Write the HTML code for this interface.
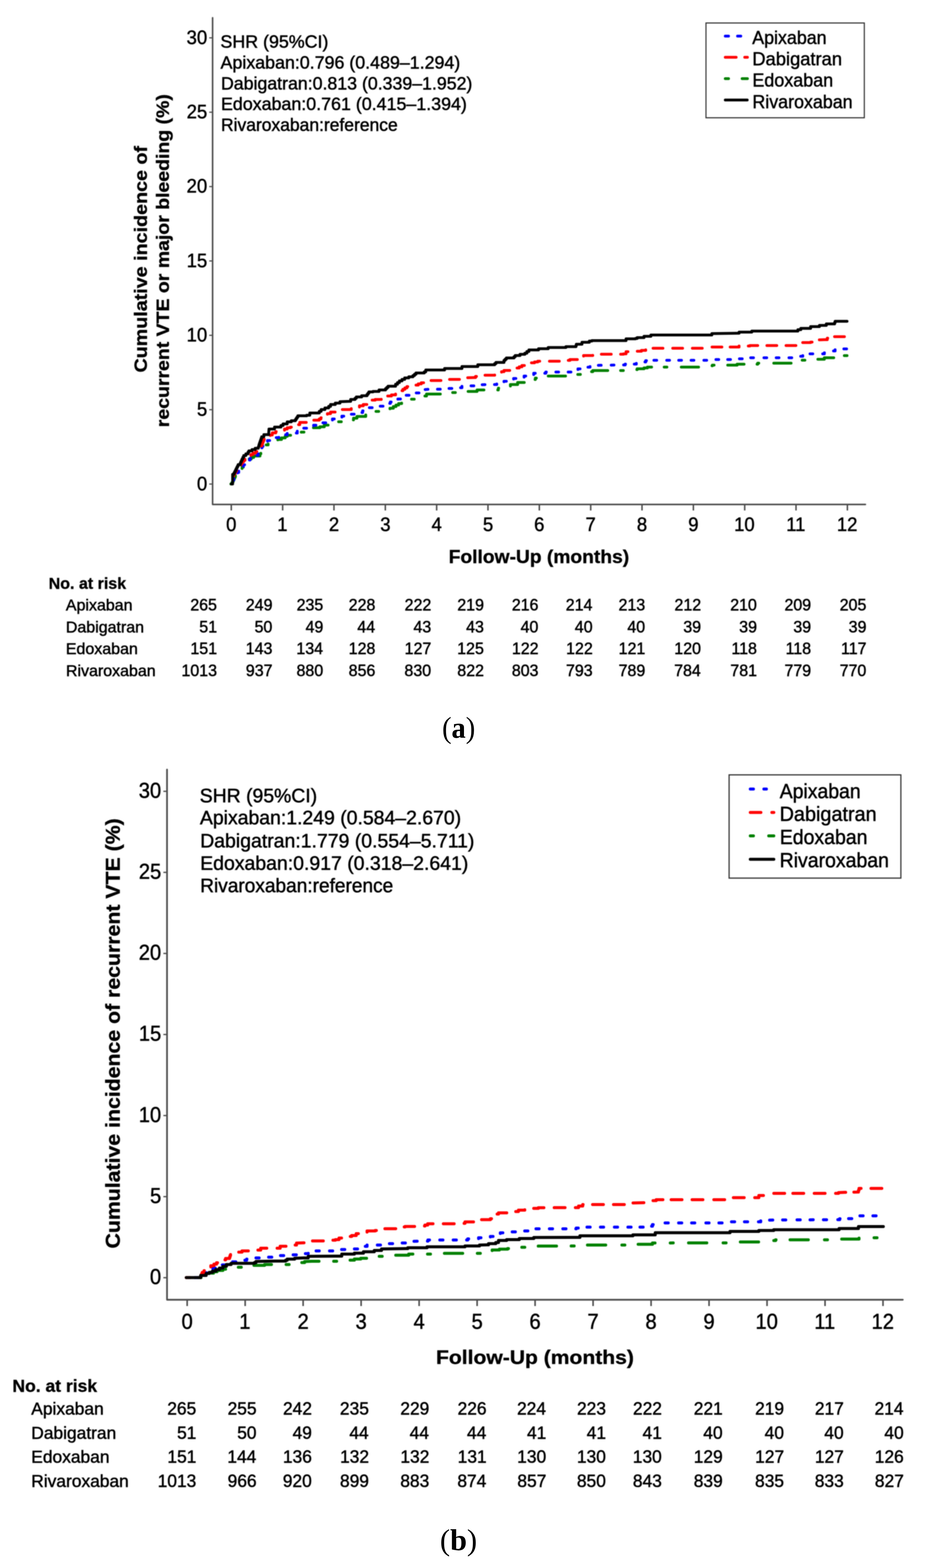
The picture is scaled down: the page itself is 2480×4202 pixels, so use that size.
<!DOCTYPE html>
<html><head><meta charset="utf-8"><title>Cumulative incidence</title>
<style>html,body{margin:0;padding:0;background:#fff;}#wrap{position:relative;width:2480px;height:4202px;overflow:hidden;}#plot{display:block;filter:blur(0.8px);}#lab{position:absolute;left:0;top:0;}</style>
</head><body><div id="wrap">
<svg id="plot" width="2480" height="4202" viewBox="0 0 2480 4202">
<rect width="2480" height="4202" fill="#fff"/>
<path d="M570.0 47.7V1351.8H2320.3" fill="none" stroke="#4d4d4d" stroke-width="4.2" stroke-linejoin="round" stroke-linecap="round"/>
<line x1="561.0" y1="1297.2" x2="570.0" y2="1297.2" stroke="#4d4d4d" stroke-width="3.2"/>
<text transform="translate(527.88 1313.50) scale(0.9449 1)" style="font-size:52.41px;font-family:'Liberation Sans',Arial,Helvetica,sans-serif" fill="#000" stroke="#000" stroke-width="1.10">0</text>
<line x1="561.0" y1="1097.9" x2="570.0" y2="1097.9" stroke="#4d4d4d" stroke-width="3.2"/>
<text transform="translate(528.03 1114.20) scale(0.9449 1)" style="font-size:52.41px;font-family:'Liberation Sans',Arial,Helvetica,sans-serif" fill="#000" stroke="#000" stroke-width="1.10">5</text>
<line x1="561.0" y1="898.6" x2="570.0" y2="898.6" stroke="#4d4d4d" stroke-width="3.2"/>
<text transform="translate(500.35 914.90) scale(0.9449 1)" style="font-size:52.41px;font-family:'Liberation Sans',Arial,Helvetica,sans-serif" fill="#000" stroke="#000" stroke-width="1.10">10</text>
<line x1="561.0" y1="699.3" x2="570.0" y2="699.3" stroke="#4d4d4d" stroke-width="3.2"/>
<text transform="translate(500.50 715.60) scale(0.9449 1)" style="font-size:52.41px;font-family:'Liberation Sans',Arial,Helvetica,sans-serif" fill="#000" stroke="#000" stroke-width="1.10">15</text>
<line x1="561.0" y1="500.0" x2="570.0" y2="500.0" stroke="#4d4d4d" stroke-width="3.2"/>
<text transform="translate(500.35 516.30) scale(0.9449 1)" style="font-size:52.41px;font-family:'Liberation Sans',Arial,Helvetica,sans-serif" fill="#000" stroke="#000" stroke-width="1.10">20</text>
<line x1="561.0" y1="300.7" x2="570.0" y2="300.7" stroke="#4d4d4d" stroke-width="3.2"/>
<text transform="translate(500.50 317.00) scale(0.9449 1)" style="font-size:52.41px;font-family:'Liberation Sans',Arial,Helvetica,sans-serif" fill="#000" stroke="#000" stroke-width="1.10">25</text>
<line x1="561.0" y1="101.4" x2="570.0" y2="101.4" stroke="#4d4d4d" stroke-width="3.2"/>
<text transform="translate(500.35 117.70) scale(0.9449 1)" style="font-size:52.41px;font-family:'Liberation Sans',Arial,Helvetica,sans-serif" fill="#000" stroke="#000" stroke-width="1.10">30</text>
<line x1="620.1" y1="1351.8" x2="620.1" y2="1368.0" stroke="#4d4d4d" stroke-width="4.0"/>
<text transform="translate(606.33 1422.80) scale(0.9449 1)" style="font-size:52.41px;font-family:'Liberation Sans',Arial,Helvetica,sans-serif" fill="#000" stroke="#000" stroke-width="1.10">0</text>
<line x1="757.8" y1="1351.8" x2="757.8" y2="1368.0" stroke="#4d4d4d" stroke-width="4.0"/>
<text transform="translate(743.32 1422.80) scale(0.9449 1)" style="font-size:52.41px;font-family:'Liberation Sans',Arial,Helvetica,sans-serif" fill="#000" stroke="#000" stroke-width="1.10">1</text>
<line x1="895.4" y1="1351.8" x2="895.4" y2="1368.0" stroke="#4d4d4d" stroke-width="4.0"/>
<text transform="translate(881.63 1422.80) scale(0.9449 1)" style="font-size:52.41px;font-family:'Liberation Sans',Arial,Helvetica,sans-serif" fill="#000" stroke="#000" stroke-width="1.10">2</text>
<line x1="1033.1" y1="1351.8" x2="1033.1" y2="1368.0" stroke="#4d4d4d" stroke-width="4.0"/>
<text transform="translate(1019.43 1422.80) scale(0.9449 1)" style="font-size:52.41px;font-family:'Liberation Sans',Arial,Helvetica,sans-serif" fill="#000" stroke="#000" stroke-width="1.10">3</text>
<line x1="1170.7" y1="1351.8" x2="1170.7" y2="1368.0" stroke="#4d4d4d" stroke-width="4.0"/>
<text transform="translate(1157.08 1422.80) scale(0.9449 1)" style="font-size:52.41px;font-family:'Liberation Sans',Arial,Helvetica,sans-serif" fill="#000" stroke="#000" stroke-width="1.10">4</text>
<line x1="1308.3" y1="1351.8" x2="1308.3" y2="1368.0" stroke="#4d4d4d" stroke-width="4.0"/>
<text transform="translate(1294.63 1422.80) scale(0.9449 1)" style="font-size:52.41px;font-family:'Liberation Sans',Arial,Helvetica,sans-serif" fill="#000" stroke="#000" stroke-width="1.10">5</text>
<line x1="1446.0" y1="1351.8" x2="1446.0" y2="1368.0" stroke="#4d4d4d" stroke-width="4.0"/>
<text transform="translate(1432.06 1422.80) scale(0.9449 1)" style="font-size:52.41px;font-family:'Liberation Sans',Arial,Helvetica,sans-serif" fill="#000" stroke="#000" stroke-width="1.10">6</text>
<line x1="1583.7" y1="1351.8" x2="1583.7" y2="1368.0" stroke="#4d4d4d" stroke-width="4.0"/>
<text transform="translate(1569.86 1422.80) scale(0.9449 1)" style="font-size:52.41px;font-family:'Liberation Sans',Arial,Helvetica,sans-serif" fill="#000" stroke="#000" stroke-width="1.10">7</text>
<line x1="1721.3" y1="1351.8" x2="1721.3" y2="1368.0" stroke="#4d4d4d" stroke-width="4.0"/>
<text transform="translate(1707.53 1422.80) scale(0.9449 1)" style="font-size:52.41px;font-family:'Liberation Sans',Arial,Helvetica,sans-serif" fill="#000" stroke="#000" stroke-width="1.10">8</text>
<line x1="1859.0" y1="1351.8" x2="1859.0" y2="1368.0" stroke="#4d4d4d" stroke-width="4.0"/>
<text transform="translate(1845.18 1422.80) scale(0.9449 1)" style="font-size:52.41px;font-family:'Liberation Sans',Arial,Helvetica,sans-serif" fill="#000" stroke="#000" stroke-width="1.10">9</text>
<line x1="1996.6" y1="1351.8" x2="1996.6" y2="1368.0" stroke="#4d4d4d" stroke-width="4.0"/>
<text transform="translate(1968.15 1422.80) scale(0.9449 1)" style="font-size:52.41px;font-family:'Liberation Sans',Arial,Helvetica,sans-serif" fill="#000" stroke="#000" stroke-width="1.10">10</text>
<line x1="2134.2" y1="1351.8" x2="2134.2" y2="1368.0" stroke="#4d4d4d" stroke-width="4.0"/>
<text transform="translate(2107.88 1422.80) scale(0.9449 1)" style="font-size:52.41px;font-family:'Liberation Sans',Arial,Helvetica,sans-serif" fill="#000" stroke="#000" stroke-width="1.10">11</text>
<line x1="2271.9" y1="1351.8" x2="2271.9" y2="1368.0" stroke="#4d4d4d" stroke-width="4.0"/>
<text transform="translate(2243.72 1422.80) scale(0.9449 1)" style="font-size:52.41px;font-family:'Liberation Sans',Arial,Helvetica,sans-serif" fill="#000" stroke="#000" stroke-width="1.10">12</text>
<text transform="translate(394.20 998.33) rotate(-90) scale(1.0829 1)" style="font-size:48.76px;font-weight:bold;font-family:'Liberation Sans',Arial,Helvetica,sans-serif" fill="#000" stroke="#000" stroke-width="0.80">Cumulative incidence of</text>
<text transform="translate(453.30 1144.91) rotate(-90) scale(1.0698 1)" style="font-size:48.76px;font-weight:bold;font-family:'Liberation Sans',Arial,Helvetica,sans-serif" fill="#000" stroke="#000" stroke-width="0.80">recurrent VTE or major bleeding (%)</text>
<text transform="translate(1202.96 1509.40) scale(1.0409 1)" style="font-size:49.53px;font-weight:bold;font-family:'Liberation Sans',Arial,Helvetica,sans-serif" fill="#000" stroke="#000" stroke-width="0.80">Follow-Up (months)</text>
<text transform="translate(591.05 128.00) scale(1.0052 1)" style="font-size:47.56px;font-family:'Liberation Sans',Arial,Helvetica,sans-serif" fill="#000" stroke="#000" stroke-width="1.10">SHR (95%CI)</text>
<text transform="translate(591.36 183.50) scale(1.0045 1)" style="font-size:47.56px;font-family:'Liberation Sans',Arial,Helvetica,sans-serif" fill="#000" stroke="#000" stroke-width="1.10">Apixaban:0.796 (0.489&#8211;1.294)</text>
<text transform="translate(592.45 239.80) scale(0.9996 1)" style="font-size:47.56px;font-family:'Liberation Sans',Arial,Helvetica,sans-serif" fill="#000" stroke="#000" stroke-width="1.10">Dabigatran:0.813 (0.339&#8211;1.952)</text>
<text transform="translate(592.43 295.40) scale(1.0055 1)" style="font-size:47.56px;font-family:'Liberation Sans',Arial,Helvetica,sans-serif" fill="#000" stroke="#000" stroke-width="1.10">Edoxaban:0.761 (0.415&#8211;1.394)</text>
<text transform="translate(592.50 350.50) scale(0.9852 1)" style="font-size:47.56px;font-family:'Liberation Sans',Arial,Helvetica,sans-serif" fill="#000" stroke="#000" stroke-width="1.10">Rivaroxaban:reference</text>
<rect x="1892.8" y="61.6" width="424.5" height="254.0" fill="none" stroke="#333" stroke-width="3.0"/>
<text transform="translate(2016.72 117.80) scale(0.9432 1)" style="font-size:50.73px;font-family:'Liberation Sans',Arial,Helvetica,sans-serif" fill="#000" stroke="#000" stroke-width="1.10">Apixaban</text>
<line x1="1944.5" y1="96.7" x2="1953.3" y2="96.7" stroke="#0000ff" stroke-width="7.5" stroke-linecap="round"/>
<line x1="1977.4" y1="96.7" x2="1986.1" y2="96.7" stroke="#0000ff" stroke-width="7.5" stroke-linecap="round"/>
<text transform="translate(2017.10 175.00) scale(0.9689 1)" style="font-size:50.73px;font-family:'Liberation Sans',Arial,Helvetica,sans-serif" fill="#000" stroke="#000" stroke-width="1.10">Dabigatran</text>
<line x1="1944.5" y1="153.6" x2="1973.7" y2="153.6" stroke="#ff0000" stroke-width="7.5" stroke-linecap="round"/>
<line x1="1996.7" y1="153.6" x2="2003.9" y2="153.6" stroke="#ff0000" stroke-width="7.5" stroke-linecap="round"/>
<text transform="translate(2017.18 232.30) scale(0.9475 1)" style="font-size:50.73px;font-family:'Liberation Sans',Arial,Helvetica,sans-serif" fill="#000" stroke="#000" stroke-width="1.10">Edoxaban</text>
<line x1="1944.5" y1="210.7" x2="1953.3" y2="210.7" stroke="#008000" stroke-width="7.5" stroke-linecap="round"/>
<line x1="1989.7" y1="210.7" x2="2003.9" y2="210.7" stroke="#008000" stroke-width="7.5" stroke-linecap="round"/>
<text transform="translate(2017.19 289.70) scale(0.9437 1)" style="font-size:50.73px;font-family:'Liberation Sans',Arial,Helvetica,sans-serif" fill="#000" stroke="#000" stroke-width="1.10">Rivaroxaban</text>
<line x1="1944.5" y1="267.9" x2="2003.4" y2="267.9" stroke="#000000" stroke-width="7.5" stroke-linecap="round"/>
<path d="M619.0 1297.0L621.5 1297.0L621.5 1293.5L624.0 1293.5L624.0 1290.0L625.8 1290.0L625.8 1286.0L627.6 1286.0L627.6 1282.0L629.3 1282.0L629.3 1278.0L631.1 1278.0L631.1 1274.0L632.9 1274.0L632.9 1270.0L636.1 1270.0L636.1 1266.3L639.3 1266.3L639.3 1262.7L642.6 1262.7L642.6 1259.0L645.8 1259.0L645.8 1255.4L649.0 1255.4L649.0 1251.7L652.7 1251.7L652.7 1247.4L656.3 1247.4L656.3 1243.0L660.0 1243.0L660.0 1238.7L663.6 1238.7L663.6 1234.3L667.3 1234.3L667.3 1230.0L673.6 1230.0L673.6 1226.0L680.0 1226.0L680.0 1222.0L697.0 1222.0L697.0 1216.2L699.3 1216.2L699.3 1211.6L701.6 1211.6L701.6 1207.0L703.9 1207.0L703.9 1203.3L706.2 1203.3L706.2 1199.6L708.5 1199.6L708.5 1195.9L710.8 1195.9L710.8 1192.2L718.8 1192.2L718.8 1188.8L726.9 1188.8L726.9 1185.3L734.9 1185.3L734.9 1181.9L744.8 1181.9L744.8 1177.7L754.7 1177.7L754.7 1173.5L764.6 1173.5L764.6 1169.3L770.0 1169.3L770.0 1166.6L797.0 1166.6L797.0 1161.5L807.7 1161.5L807.7 1158.1L818.3 1158.1L818.3 1154.8L829.0 1154.8L829.0 1151.4L832.3 1151.4L832.3 1146.3L857.6 1146.3L857.6 1143.8L869.4 1143.8L869.4 1139.2L881.2 1139.2L881.2 1134.6L899.7 1134.6L899.7 1130.3L926.7 1130.3L926.7 1125.3L938.5 1125.3L947.8 1125.3L947.8 1120.7L957.0 1120.7L957.0 1116.0L980.6 1116.0L980.6 1110.1L986.5 1110.1L986.5 1106.3L992.4 1106.3L992.4 1102.5L1020.2 1102.5L1020.2 1098.6L1036.4 1098.6L1045.5 1098.6L1045.5 1094.0L1054.6 1094.0L1054.6 1089.5L1061.7 1089.5L1061.7 1085.5L1068.7 1085.5L1068.7 1081.4L1076.8 1081.4L1076.8 1079.4L1081.8 1079.4L1081.8 1076.3L1086.9 1076.3L1086.9 1073.3L1099.1 1073.3L1099.1 1069.8L1111.2 1069.8L1111.2 1066.2L1121.3 1066.2L1121.3 1061.2L1143.5 1061.2L1143.5 1056.1L1190.0 1056.1L1194.0 1056.1L1194.0 1052.1L1226.4 1052.1L1234.5 1052.1L1234.5 1049.0L1262.8 1049.0L1279.0 1049.0L1279.0 1045.0L1310.2 1045.0L1336.1 1045.0L1336.1 1040.2L1344.7 1040.2L1344.7 1035.8L1368.4 1035.8L1368.4 1030.5L1387.8 1030.5L1387.8 1025.1L1407.2 1025.1L1407.2 1020.8L1421.2 1020.8L1421.2 1017.0L1435.3 1017.0L1435.3 1013.2L1441.7 1013.2L1441.7 1008.9L1469.8 1008.9L1469.8 1007.8L1519.4 1007.8L1547.4 1007.8L1547.4 1003.5L1556.0 1003.5L1556.0 1000.3L1581.9 1000.3L1581.9 996.0L1589.2 996.0L1589.2 992.9L1671.6 992.9L1703.7 992.9L1703.7 990.6L1708.3 990.6L1708.3 988.3L1726.6 988.3L1726.6 986.0L1735.8 986.0L1735.8 983.7L1877.8 983.7L1877.8 981.4L1905.3 981.4L1905.3 980.3L1909.9 980.3L1909.9 978.5L1947.3 978.5L1976.2 978.5L1976.2 975.9L1997.2 975.9L2031.4 975.9L2031.4 973.2L2123.4 973.2L2135.2 973.2L2135.2 969.2L2147.0 969.2L2147.0 965.3L2160.2 965.3L2189.1 965.3L2189.1 962.7L2210.1 962.7L2210.1 958.8L2233.8 958.8L2260.1 958.8L2260.1 953.0L2271.9 953.0" fill="none" stroke="#008000" stroke-width="7.5" stroke-linecap="round" stroke-linejoin="round" stroke-dasharray="34.5 37.0 7.3 37.2 46.5 37.0 7.3 37.2 46.5 37.0 7.3 37.2 46.5 37.0 7.3 37.2 46.5 37.0 7.3 37.2 46.5 37.0 7.3 37.2 46.5 37.0 7.3 37.2 46.5 37.0 7.3 37.2 46.5 37.0 7.3 37.2 46.5 37.0 7.3 37.2 46.5 34.5 7.3 38.5 46.5 33.7 7.3 38.5 46.5 39.4 7.3 36.5 46.5 34.8 7.3 40.2 46.5 37.6 7.3 37.3 46.5 34.2 7.3 50.9" stroke-dashoffset="0.0"/>
<path d="M619.0 1297.0L621.5 1297.0L621.5 1293.5L624.0 1293.5L624.0 1290.0L625.4 1290.0L625.4 1286.0L626.9 1286.0L626.9 1282.0L628.3 1282.0L628.3 1278.0L631.2 1278.0L631.2 1274.0L634.1 1274.0L634.1 1270.0L637.1 1270.0L637.1 1266.0L640.0 1266.0L640.0 1262.0L643.2 1262.0L643.2 1257.9L646.3 1257.9L646.3 1253.8L649.5 1253.8L649.5 1249.6L652.6 1249.6L652.6 1245.5L655.8 1245.5L655.8 1241.4L660.7 1241.4L660.7 1237.1L665.5 1237.1L665.5 1232.8L670.4 1232.8L670.4 1228.5L675.3 1228.5L675.3 1224.2L683.9 1224.2L683.9 1220.2L692.5 1220.2L692.5 1216.2L694.4 1216.2L694.4 1212.2L696.2 1212.2L696.2 1208.1L698.1 1208.1L698.1 1204.0L700.0 1204.0L700.0 1200.0L702.5 1200.0L702.5 1196.2L705.0 1196.2L705.0 1192.5L707.5 1192.5L707.5 1188.8L710.0 1188.8L710.0 1185.0L717.2 1185.0L717.2 1180.5L724.5 1180.5L724.5 1176.1L736.0 1176.1L736.0 1172.7L747.5 1172.7L747.5 1169.3L758.8 1169.3L758.8 1164.9L770.0 1164.9L770.0 1160.5L797.0 1160.5L797.0 1154.8L805.4 1154.8L805.4 1151.2L813.8 1151.2L813.8 1147.5L827.3 1147.5L834.0 1147.5L834.0 1143.5L840.8 1143.5L840.8 1139.6L854.2 1139.6L859.2 1139.6L859.2 1136.2L864.3 1136.2L864.3 1132.9L874.4 1132.9L874.4 1129.5L882.8 1129.5L882.8 1126.1L891.3 1126.1L891.3 1122.8L899.7 1122.8L899.7 1119.4L916.6 1119.4L916.6 1115.2L928.4 1115.2L941.8 1115.2L941.8 1110.1L955.3 1110.1L963.8 1110.1L963.8 1105.5L972.2 1105.5L972.2 1100.9L980.6 1100.9L980.6 1096.7L989.0 1096.7L989.0 1092.4L1002.5 1092.4L1016.2 1092.4L1016.2 1088.5L1036.4 1088.5L1039.8 1088.5L1039.8 1084.8L1043.1 1084.8L1043.1 1081.0L1046.5 1081.0L1046.5 1077.3L1056.6 1077.3L1061.7 1077.3L1061.7 1073.3L1066.7 1073.3L1066.7 1069.3L1076.8 1069.3L1076.8 1067.2L1082.8 1067.2L1082.8 1063.2L1088.9 1063.2L1088.9 1059.2L1099.1 1059.2L1099.1 1056.2L1109.2 1056.2L1109.2 1053.1L1123.3 1053.1L1123.3 1049.0L1139.5 1049.0L1139.5 1044.0L1151.6 1043.0L1186.0 1043.0L1202.1 1043.0L1202.1 1041.0L1216.3 1041.0L1232.5 1041.0L1232.5 1038.9L1238.5 1038.9L1238.5 1034.0L1274.9 1034.0L1291.1 1034.0L1291.1 1030.9L1325.3 1030.5L1331.8 1030.5L1331.8 1027.2L1351.2 1027.2L1351.2 1021.8L1364.1 1021.8L1364.1 1018.0L1377.0 1018.0L1377.0 1014.3L1391.0 1014.3L1391.0 1011.0L1405.1 1011.0L1405.1 1007.8L1413.7 1007.8L1413.7 1004.6L1430.9 1004.6L1430.9 1000.3L1441.7 1000.3L1463.3 1000.3L1463.3 997.0L1534.5 997.0L1534.5 992.7L1549.5 992.7L1549.5 988.4L1560.3 988.4L1560.3 984.1L1581.9 984.1L1581.9 980.9L1600.0 980.9L1600.0 979.0L1667.1 978.0L1676.2 978.0L1676.2 975.7L1699.1 975.7L1706.0 975.7L1706.0 972.3L1726.6 972.3L1726.6 970.0L1731.2 970.0L1731.2 966.5L1749.5 966.5L1749.5 965.4L1900.7 965.4L1915.8 965.4L1915.8 963.5L1978.8 963.5L1978.8 961.4L2010.4 961.4L2010.4 958.8L2123.4 958.8L2144.4 958.8L2144.4 954.8L2152.3 954.8L2152.3 952.2L2168.1 952.2L2168.1 948.3L2210.1 948.3L2210.1 945.6L2231.1 945.6L2231.1 940.4L2239.0 940.4L2239.0 935.1L2271.0 935.1" fill="none" stroke="#0000ff" stroke-width="7.5" stroke-linecap="round" stroke-linejoin="round" stroke-dasharray="7.5 25.5 7.5 25.5 7.5 25.5 7.5 25.5 7.5 25.5 7.5 25.5 7.5 25.5 7.5 25.5 7.5 25.5 7.5 25.5 7.5 25.5 7.5 25.5 7.5 25.5 7.5 25.5 7.5 25.5 7.5 25.5 7.5 25.5 7.5 25.5 7.5 25.5 7.5 25.5 7.5 25.5 7.5 25.5 7.5 25.5 7.5 25.5 7.5 25.5 7.5 25.5 7.5 25.5 7.5 25.5 7.5 25.5 7.5 25.5 7.5 25.5 7.5 25.5 7.5 25.5 7.5 25.5 7.5 25.5 7.5 25.5 7.5 25.5 7.5 25.5 7.5 25.5 7.5 26.9 7.5 25.7 7.5 23.4 7.5 26.9 7.5 21.1 7.5 26.9 7.5 24.6 7.5 25.7 7.5 26.8 7.5 26.7 7.5 24.0 7.5 26.1 7.5 25.3 7.5 28.0 7.5 25.4 7.5 26.7 7.5 27.9 7.5 24.0 7.5 26.5 7.5 29.4 7.5 25.5 7.5 66.0" stroke-dashoffset="2046.6"/>
<path d="M619.0 1297.0L624.0 1297.0L624.0 1275.0L627.0 1275.0L627.0 1270.0L630.0 1270.0L630.0 1265.0L632.5 1265.0L632.5 1261.2L635.0 1261.2L635.0 1257.5L637.5 1257.5L637.5 1253.8L640.0 1253.8L640.0 1250.0L643.3 1250.0L643.3 1245.7L646.7 1245.7L646.7 1241.3L650.0 1241.3L650.0 1237.0L653.5 1237.0L653.5 1233.5L656.9 1233.5L656.9 1230.0L660.4 1230.0L660.4 1226.5L666.5 1226.5L666.5 1222.3L672.6 1222.3L672.6 1218.1L678.7 1218.1L678.7 1213.9L685.6 1213.9L685.6 1209.9L692.5 1209.9L692.5 1205.9L695.0 1205.9L695.0 1202.3L697.5 1202.3L697.5 1198.6L700.0 1198.6L700.0 1195.0L702.0 1195.0L702.0 1190.0L704.0 1190.0L704.0 1185.0L705.7 1185.0L705.7 1181.2L707.4 1181.2L707.4 1177.3L712.0 1177.3L712.0 1172.0L718.2 1172.0L718.2 1168.9L724.5 1168.9L724.5 1165.8L730.0 1165.8L730.0 1160.0L739.4 1160.0L739.4 1156.7L755.5 1156.7L755.5 1153.2L762.8 1153.2L762.8 1149.8L770.0 1149.8L770.0 1146.3L778.4 1146.3L778.4 1144.7L786.0 1144.7L786.0 1141.3L793.6 1141.3L793.6 1137.9L803.7 1137.9L803.7 1132.0L813.8 1132.0L830.6 1132.0L830.6 1126.1L855.9 1126.1L855.9 1122.8L860.4 1122.8L860.4 1119.4L864.9 1119.4L864.9 1116.1L869.4 1116.1L869.4 1112.7L877.8 1112.7L877.8 1108.5L886.2 1108.5L886.2 1104.2L904.8 1104.2L904.8 1102.5L913.2 1102.5L913.2 1097.5L928.4 1097.5L941.8 1097.5L941.8 1092.4L963.7 1092.4L963.7 1087.4L973.9 1087.4L973.9 1084.0L984.0 1084.0L984.0 1080.6L986.5 1080.6L986.5 1076.4L989.0 1076.4L989.0 1072.2L1005.9 1072.2L1005.9 1070.5L1022.2 1070.5L1022.2 1067.2L1030.3 1067.2L1030.3 1064.2L1038.4 1064.2L1038.4 1061.2L1049.5 1061.2L1049.5 1058.2L1060.6 1058.2L1060.6 1055.1L1067.7 1055.1L1067.7 1051.0L1074.8 1051.0L1074.8 1047.0L1080.2 1047.0L1080.2 1043.3L1085.6 1043.3L1085.6 1039.6L1091.0 1039.6L1091.0 1035.9L1113.2 1035.9L1113.2 1031.9L1121.3 1031.9L1121.3 1028.8L1129.4 1028.8L1129.4 1025.8L1137.5 1025.8L1137.5 1022.8L1145.5 1022.8L1145.5 1019.7L1175.9 1019.7L1194.0 1019.7L1194.0 1016.7L1226.4 1016.7L1238.5 1016.7L1238.5 1012.7L1270.9 1011.7L1275.0 1011.7L1275.0 1008.7L1279.0 1008.7L1279.0 1005.6L1314.5 1005.6L1326.3 1005.6L1326.3 1002.4L1338.2 1002.4L1338.2 999.2L1344.7 999.2L1344.7 996.0L1351.2 996.0L1351.2 992.7L1379.2 992.7L1379.2 989.5L1385.7 989.5L1385.7 986.2L1392.1 986.2L1392.1 983.0L1399.3 983.0L1399.3 979.4L1406.5 979.4L1406.5 975.8L1413.7 975.8L1413.7 972.2L1433.1 972.2L1433.1 970.1L1441.7 970.1L1441.7 967.9L1508.6 967.9L1508.6 965.8L1528.0 965.8L1528.0 963.6L1549.5 963.6L1549.5 958.2L1564.6 958.2L1564.6 952.8L1589.2 952.8L1589.2 949.3L1671.6 949.3L1671.6 948.2L1678.5 948.2L1678.5 942.5L1706.0 942.5L1706.0 941.3L1719.7 941.3L1719.7 939.0L1731.2 939.0L1731.2 935.6L1747.2 935.6L1747.2 933.3L1903.0 933.3L1907.6 933.3L1907.6 930.0L1978.8 929.9L1981.5 929.9L1981.5 927.2L2010.4 927.2L2010.4 926.0L2136.5 925.9L2143.1 925.9L2143.1 922.0L2149.7 922.0L2149.7 918.0L2173.3 918.0L2173.3 916.7L2194.4 916.7L2194.4 910.9L2210.1 910.2L2218.0 910.2L2218.0 906.2L2236.4 906.2L2236.4 902.3L2271.0 902.3L2271.0 901.0" fill="none" stroke="#ff0000" stroke-width="7.5" stroke-linecap="round" stroke-linejoin="round" stroke-dasharray="26.5 26.1 26.5 26.1 26.5 26.1 26.5 26.1 26.5 26.1 26.5 26.1 26.5 26.1 26.5 26.1 26.5 26.1 26.5 26.1 26.5 26.1 26.5 26.1 26.5 26.1 26.5 26.1 26.5 26.1 26.5 26.1 26.5 26.1 26.5 26.1 26.5 26.1 26.5 26.1 26.5 26.1 26.5 26.1 26.5 26.1 26.5 26.1 26.5 26.1 26.5 25.1 26.5 26.2 26.5 23.8 26.5 26.2 26.5 26.2 26.5 29.5 26.5 22.1 26.5 24.8 26.5 24.6 26.5 24.8 26.5 26.1 26.5 25.2 26.5 22.2 26.5 83.3" stroke-dashoffset="2071.1"/>
<path d="M620.1 1297.0L623.7 1297.0L623.7 1271.2L627.2 1271.2L627.2 1267.8L629.1 1267.8L629.1 1264.0L631.0 1264.0L631.0 1260.2L632.9 1260.2L632.9 1256.3L634.8 1256.3L634.8 1252.5L636.7 1252.5L636.7 1248.7L638.6 1248.7L638.6 1244.9L644.4 1244.9L644.4 1240.3L645.9 1240.3L645.9 1236.9L647.5 1236.9L647.5 1233.4L649.0 1233.4L649.0 1230.0L651.2 1230.0L651.2 1225.4L653.5 1225.4L653.5 1220.8L659.2 1220.8L659.2 1216.2L665.0 1216.2L665.0 1211.6L667.3 1211.6L667.3 1208.2L675.7 1208.2L675.7 1204.8L684.1 1204.8L684.1 1201.3L692.5 1201.3L692.5 1197.9L693.7 1197.9L693.7 1194.1L694.8 1194.1L694.8 1190.2L696.0 1190.2L696.0 1186.4L697.4 1186.4L697.4 1182.4L698.8 1182.4L698.8 1178.4L700.2 1178.4L700.2 1174.4L701.6 1174.4L701.6 1170.4L707.4 1170.4L707.4 1164.7L720.0 1164.7L720.3 1164.7L720.3 1161.0L720.5 1161.0L720.5 1157.2L720.8 1157.2L720.8 1153.5L721.1 1153.5L721.1 1149.8L736.0 1149.8L736.0 1148.6L736.0 1144.6L747.5 1144.6L753.2 1144.6L753.2 1140.3L758.9 1140.3L758.9 1136.0L770.0 1136.0L770.0 1130.5L781.0 1130.5L781.0 1127.5L791.9 1127.5L791.9 1124.4L794.1 1124.4L794.1 1121.0L796.4 1121.0L796.4 1117.7L798.6 1117.7L798.6 1114.3L822.2 1114.3L822.2 1112.7L830.6 1112.7L830.6 1106.8L850.9 1106.8L856.0 1106.8L856.0 1102.2L861.0 1102.2L861.0 1097.5L871.1 1097.5L871.1 1093.3L881.2 1093.3L881.2 1089.1L886.2 1089.1L886.2 1084.0L898.9 1084.0L898.9 1080.2L911.5 1080.2L911.5 1076.4L936.8 1075.6L940.1 1075.6L940.1 1070.5L951.9 1070.5L951.9 1067.2L955.3 1067.2L955.3 1063.8L969.6 1063.8L969.6 1060.4L984.0 1060.4L984.0 1057.1L986.5 1057.1L986.5 1053.7L989.0 1053.7L989.0 1050.3L1000.0 1050.3L1000.0 1049.0L1016.2 1049.0L1016.2 1045.0L1030.3 1045.0L1033.7 1045.0L1033.7 1041.6L1037.0 1041.6L1037.0 1038.3L1040.4 1038.3L1040.4 1034.9L1060.6 1034.9L1060.6 1029.8L1065.7 1029.8L1065.7 1025.3L1070.8 1025.3L1070.8 1020.8L1077.8 1020.8L1077.8 1016.8L1084.9 1016.8L1084.9 1012.7L1096.0 1012.7L1096.0 1009.7L1107.1 1009.7L1107.1 1006.6L1111.2 1006.6L1111.2 1003.0L1115.2 1003.0L1115.2 999.5L1137.5 999.5L1137.5 996.5L1141.5 996.5L1141.5 991.4L1188.0 991.4L1192.0 991.4L1192.0 987.4L1226.4 987.4L1238.5 987.4L1238.5 982.3L1272.9 982.3L1281.0 982.3L1281.0 977.5L1323.1 977.5L1326.3 977.5L1326.3 974.4L1329.6 974.4L1329.6 971.2L1351.2 971.2L1351.2 965.8L1354.4 965.8L1354.4 962.5L1357.6 962.5L1357.6 959.3L1374.9 959.3L1378.1 959.3L1378.1 956.0L1381.3 956.0L1381.3 952.8L1394.2 952.8L1394.2 949.6L1407.2 949.6L1407.2 946.4L1412.6 946.4L1412.6 942.0L1418.0 942.0L1418.0 937.7L1439.6 937.7L1443.9 937.7L1443.9 934.5L1465.4 934.5L1469.8 934.5L1469.8 931.3L1515.0 931.3L1517.2 931.3L1517.2 929.1L1543.1 929.1L1544.2 929.1L1544.2 925.9L1545.2 925.9L1545.2 922.6L1560.3 922.6L1560.3 917.3L1580.0 917.3L1580.0 914.0L1586.9 914.0L1586.9 912.7L1673.9 912.7L1678.5 912.7L1678.5 908.1L1703.7 908.1L1703.7 907.0L1708.3 907.0L1708.3 904.7L1726.6 904.7L1726.6 901.2L1745.0 901.2L1745.0 897.8L1905.3 897.8L1908.5 897.8L1908.5 894.0L1976.2 893.1L1981.5 893.1L1981.5 889.9L2010.4 889.9L2015.6 889.9L2015.6 887.3L2131.3 887.3L2139.2 887.3L2139.2 883.6L2147.0 883.6L2147.0 879.9L2168.1 879.9L2173.3 879.9L2173.3 875.2L2191.7 875.2L2197.0 875.2L2197.0 872.0L2212.7 872.0L2215.4 872.0L2215.4 868.1L2236.4 868.1L2237.7 868.1L2237.7 864.5L2239.0 864.5L2239.0 861.0L2271.0 861.0" fill="none" stroke="#000000" stroke-width="7.5" stroke-linecap="round" stroke-linejoin="round"/>
<text transform="translate(130.62 1577.60) scale(0.9938 1)" style="font-size:43.19px;font-weight:bold;font-family:'Liberation Sans',Arial,Helvetica,sans-serif" fill="#000" stroke="#000" stroke-width="0.80">No. at risk</text>
<text transform="translate(176.57 1636.00) scale(1.0050 1)" style="font-size:42.66px;font-family:'Liberation Sans',Arial,Helvetica,sans-serif" fill="#000" stroke="#000" stroke-width="1.10">Apixaban</text>
<text transform="translate(510.16 1636.00) scale(0.9633 1)" style="font-size:44.51px;font-family:'Liberation Sans',Arial,Helvetica,sans-serif" fill="#000" stroke="#000" stroke-width="1.10">265</text>
<text transform="translate(658.97 1636.00) scale(0.9633 1)" style="font-size:44.51px;font-family:'Liberation Sans',Arial,Helvetica,sans-serif" fill="#000" stroke="#000" stroke-width="1.10">249</text>
<text transform="translate(795.16 1636.00) scale(0.9633 1)" style="font-size:44.51px;font-family:'Liberation Sans',Arial,Helvetica,sans-serif" fill="#000" stroke="#000" stroke-width="1.10">235</text>
<text transform="translate(934.80 1636.00) scale(0.9633 1)" style="font-size:44.51px;font-family:'Liberation Sans',Arial,Helvetica,sans-serif" fill="#000" stroke="#000" stroke-width="1.10">228</text>
<text transform="translate(1084.80 1636.00) scale(0.9633 1)" style="font-size:44.51px;font-family:'Liberation Sans',Arial,Helvetica,sans-serif" fill="#000" stroke="#000" stroke-width="1.10">222</text>
<text transform="translate(1225.97 1636.00) scale(0.9633 1)" style="font-size:44.51px;font-family:'Liberation Sans',Arial,Helvetica,sans-serif" fill="#000" stroke="#000" stroke-width="1.10">219</text>
<text transform="translate(1372.14 1636.00) scale(0.9633 1)" style="font-size:44.51px;font-family:'Liberation Sans',Arial,Helvetica,sans-serif" fill="#000" stroke="#000" stroke-width="1.10">216</text>
<text transform="translate(1516.80 1636.00) scale(0.9633 1)" style="font-size:44.51px;font-family:'Liberation Sans',Arial,Helvetica,sans-serif" fill="#000" stroke="#000" stroke-width="1.10">214</text>
<text transform="translate(1658.34 1636.00) scale(0.9633 1)" style="font-size:44.51px;font-family:'Liberation Sans',Arial,Helvetica,sans-serif" fill="#000" stroke="#000" stroke-width="1.10">213</text>
<text transform="translate(1808.30 1636.00) scale(0.9633 1)" style="font-size:44.51px;font-family:'Liberation Sans',Arial,Helvetica,sans-serif" fill="#000" stroke="#000" stroke-width="1.10">212</text>
<text transform="translate(1957.63 1636.00) scale(0.9633 1)" style="font-size:44.51px;font-family:'Liberation Sans',Arial,Helvetica,sans-serif" fill="#000" stroke="#000" stroke-width="1.10">210</text>
<text transform="translate(2103.17 1636.00) scale(0.9633 1)" style="font-size:44.51px;font-family:'Liberation Sans',Arial,Helvetica,sans-serif" fill="#000" stroke="#000" stroke-width="1.10">209</text>
<text transform="translate(2251.26 1636.00) scale(0.9633 1)" style="font-size:44.51px;font-family:'Liberation Sans',Arial,Helvetica,sans-serif" fill="#000" stroke="#000" stroke-width="1.10">205</text>
<text transform="translate(176.54 1694.70) scale(1.0050 1)" style="font-size:42.66px;font-family:'Liberation Sans',Arial,Helvetica,sans-serif" fill="#000" stroke="#000" stroke-width="1.10">Dabigatran</text>
<text transform="translate(534.30 1694.70) scale(0.9633 1)" style="font-size:44.51px;font-family:'Liberation Sans',Arial,Helvetica,sans-serif" fill="#000" stroke="#000" stroke-width="1.10">51</text>
<text transform="translate(682.47 1694.70) scale(0.9633 1)" style="font-size:44.51px;font-family:'Liberation Sans',Arial,Helvetica,sans-serif" fill="#000" stroke="#000" stroke-width="1.10">50</text>
<text transform="translate(819.21 1694.70) scale(0.9633 1)" style="font-size:44.51px;font-family:'Liberation Sans',Arial,Helvetica,sans-serif" fill="#000" stroke="#000" stroke-width="1.10">49</text>
<text transform="translate(958.04 1694.70) scale(0.9633 1)" style="font-size:44.51px;font-family:'Liberation Sans',Arial,Helvetica,sans-serif" fill="#000" stroke="#000" stroke-width="1.10">44</text>
<text transform="translate(1108.38 1694.70) scale(0.9633 1)" style="font-size:44.51px;font-family:'Liberation Sans',Arial,Helvetica,sans-serif" fill="#000" stroke="#000" stroke-width="1.10">43</text>
<text transform="translate(1249.68 1694.70) scale(0.9633 1)" style="font-size:44.51px;font-family:'Liberation Sans',Arial,Helvetica,sans-serif" fill="#000" stroke="#000" stroke-width="1.10">43</text>
<text transform="translate(1395.77 1694.70) scale(0.9633 1)" style="font-size:44.51px;font-family:'Liberation Sans',Arial,Helvetica,sans-serif" fill="#000" stroke="#000" stroke-width="1.10">40</text>
<text transform="translate(1541.07 1694.70) scale(0.9633 1)" style="font-size:44.51px;font-family:'Liberation Sans',Arial,Helvetica,sans-serif" fill="#000" stroke="#000" stroke-width="1.10">40</text>
<text transform="translate(1681.97 1694.70) scale(0.9633 1)" style="font-size:44.51px;font-family:'Liberation Sans',Arial,Helvetica,sans-serif" fill="#000" stroke="#000" stroke-width="1.10">40</text>
<text transform="translate(1832.01 1694.70) scale(0.9633 1)" style="font-size:44.51px;font-family:'Liberation Sans',Arial,Helvetica,sans-serif" fill="#000" stroke="#000" stroke-width="1.10">39</text>
<text transform="translate(1981.81 1694.70) scale(0.9633 1)" style="font-size:44.51px;font-family:'Liberation Sans',Arial,Helvetica,sans-serif" fill="#000" stroke="#000" stroke-width="1.10">39</text>
<text transform="translate(2127.01 1694.70) scale(0.9633 1)" style="font-size:44.51px;font-family:'Liberation Sans',Arial,Helvetica,sans-serif" fill="#000" stroke="#000" stroke-width="1.10">39</text>
<text transform="translate(2275.31 1694.70) scale(0.9633 1)" style="font-size:44.51px;font-family:'Liberation Sans',Arial,Helvetica,sans-serif" fill="#000" stroke="#000" stroke-width="1.10">39</text>
<text transform="translate(176.54 1753.40) scale(1.0050 1)" style="font-size:42.66px;font-family:'Liberation Sans',Arial,Helvetica,sans-serif" fill="#000" stroke="#000" stroke-width="1.10">Edoxaban</text>
<text transform="translate(510.46 1753.40) scale(0.9633 1)" style="font-size:44.51px;font-family:'Liberation Sans',Arial,Helvetica,sans-serif" fill="#000" stroke="#000" stroke-width="1.10">151</text>
<text transform="translate(658.84 1753.40) scale(0.9633 1)" style="font-size:44.51px;font-family:'Liberation Sans',Arial,Helvetica,sans-serif" fill="#000" stroke="#000" stroke-width="1.10">143</text>
<text transform="translate(794.60 1753.40) scale(0.9633 1)" style="font-size:44.51px;font-family:'Liberation Sans',Arial,Helvetica,sans-serif" fill="#000" stroke="#000" stroke-width="1.10">134</text>
<text transform="translate(934.80 1753.40) scale(0.9633 1)" style="font-size:44.51px;font-family:'Liberation Sans',Arial,Helvetica,sans-serif" fill="#000" stroke="#000" stroke-width="1.10">128</text>
<text transform="translate(1084.80 1753.40) scale(0.9633 1)" style="font-size:44.51px;font-family:'Liberation Sans',Arial,Helvetica,sans-serif" fill="#000" stroke="#000" stroke-width="1.10">127</text>
<text transform="translate(1225.76 1753.40) scale(0.9633 1)" style="font-size:44.51px;font-family:'Liberation Sans',Arial,Helvetica,sans-serif" fill="#000" stroke="#000" stroke-width="1.10">125</text>
<text transform="translate(1372.40 1753.40) scale(0.9633 1)" style="font-size:44.51px;font-family:'Liberation Sans',Arial,Helvetica,sans-serif" fill="#000" stroke="#000" stroke-width="1.10">122</text>
<text transform="translate(1517.70 1753.40) scale(0.9633 1)" style="font-size:44.51px;font-family:'Liberation Sans',Arial,Helvetica,sans-serif" fill="#000" stroke="#000" stroke-width="1.10">122</text>
<text transform="translate(1658.56 1753.40) scale(0.9633 1)" style="font-size:44.51px;font-family:'Liberation Sans',Arial,Helvetica,sans-serif" fill="#000" stroke="#000" stroke-width="1.10">121</text>
<text transform="translate(1807.83 1753.40) scale(0.9633 1)" style="font-size:44.51px;font-family:'Liberation Sans',Arial,Helvetica,sans-serif" fill="#000" stroke="#000" stroke-width="1.10">120</text>
<text transform="translate(1960.97 1753.40) scale(0.9633 1)" style="font-size:44.51px;font-family:'Liberation Sans',Arial,Helvetica,sans-serif" fill="#000" stroke="#000" stroke-width="1.10">118</text>
<text transform="translate(2106.17 1753.40) scale(0.9633 1)" style="font-size:44.51px;font-family:'Liberation Sans',Arial,Helvetica,sans-serif" fill="#000" stroke="#000" stroke-width="1.10">118</text>
<text transform="translate(2254.77 1753.40) scale(0.9633 1)" style="font-size:44.51px;font-family:'Liberation Sans',Arial,Helvetica,sans-serif" fill="#000" stroke="#000" stroke-width="1.10">117</text>
<text transform="translate(176.74 1812.10) scale(1.0050 1)" style="font-size:42.66px;font-family:'Liberation Sans',Arial,Helvetica,sans-serif" fill="#000" stroke="#000" stroke-width="1.10">Rivaroxaban</text>
<text transform="translate(486.41 1812.10) scale(0.9633 1)" style="font-size:44.51px;font-family:'Liberation Sans',Arial,Helvetica,sans-serif" fill="#000" stroke="#000" stroke-width="1.10">1013</text>
<text transform="translate(659.10 1812.10) scale(0.9633 1)" style="font-size:44.51px;font-family:'Liberation Sans',Arial,Helvetica,sans-serif" fill="#000" stroke="#000" stroke-width="1.10">937</text>
<text transform="translate(795.03 1812.10) scale(0.9633 1)" style="font-size:44.51px;font-family:'Liberation Sans',Arial,Helvetica,sans-serif" fill="#000" stroke="#000" stroke-width="1.10">880</text>
<text transform="translate(934.84 1812.10) scale(0.9633 1)" style="font-size:44.51px;font-family:'Liberation Sans',Arial,Helvetica,sans-serif" fill="#000" stroke="#000" stroke-width="1.10">856</text>
<text transform="translate(1084.33 1812.10) scale(0.9633 1)" style="font-size:44.51px;font-family:'Liberation Sans',Arial,Helvetica,sans-serif" fill="#000" stroke="#000" stroke-width="1.10">830</text>
<text transform="translate(1226.10 1812.10) scale(0.9633 1)" style="font-size:44.51px;font-family:'Liberation Sans',Arial,Helvetica,sans-serif" fill="#000" stroke="#000" stroke-width="1.10">822</text>
<text transform="translate(1372.14 1812.10) scale(0.9633 1)" style="font-size:44.51px;font-family:'Liberation Sans',Arial,Helvetica,sans-serif" fill="#000" stroke="#000" stroke-width="1.10">803</text>
<text transform="translate(1517.44 1812.10) scale(0.9633 1)" style="font-size:44.51px;font-family:'Liberation Sans',Arial,Helvetica,sans-serif" fill="#000" stroke="#000" stroke-width="1.10">793</text>
<text transform="translate(1658.47 1812.10) scale(0.9633 1)" style="font-size:44.51px;font-family:'Liberation Sans',Arial,Helvetica,sans-serif" fill="#000" stroke="#000" stroke-width="1.10">789</text>
<text transform="translate(1807.40 1812.10) scale(0.9633 1)" style="font-size:44.51px;font-family:'Liberation Sans',Arial,Helvetica,sans-serif" fill="#000" stroke="#000" stroke-width="1.10">784</text>
<text transform="translate(1958.06 1812.10) scale(0.9633 1)" style="font-size:44.51px;font-family:'Liberation Sans',Arial,Helvetica,sans-serif" fill="#000" stroke="#000" stroke-width="1.10">781</text>
<text transform="translate(2103.17 1812.10) scale(0.9633 1)" style="font-size:44.51px;font-family:'Liberation Sans',Arial,Helvetica,sans-serif" fill="#000" stroke="#000" stroke-width="1.10">779</text>
<text transform="translate(2251.13 1812.10) scale(0.9633 1)" style="font-size:44.51px;font-family:'Liberation Sans',Arial,Helvetica,sans-serif" fill="#000" stroke="#000" stroke-width="1.10">770</text>
<path d="M447.8 2062.3V3483.1H2420.5" fill="none" stroke="#4d4d4d" stroke-width="4.6" stroke-linejoin="round" stroke-linecap="round"/>
<line x1="438.0" y1="3424.0" x2="447.8" y2="3424.0" stroke="#4d4d4d" stroke-width="3.4"/>
<text transform="translate(402.07 3441.20) scale(0.9520 1)" style="font-size:56.71px;font-family:'Liberation Sans',Arial,Helvetica,sans-serif" fill="#000" stroke="#000" stroke-width="1.10">0</text>
<line x1="438.0" y1="3206.8" x2="447.8" y2="3206.8" stroke="#4d4d4d" stroke-width="3.4"/>
<text transform="translate(402.23 3223.96) scale(0.9520 1)" style="font-size:56.71px;font-family:'Liberation Sans',Arial,Helvetica,sans-serif" fill="#000" stroke="#000" stroke-width="1.10">5</text>
<line x1="438.0" y1="2989.5" x2="447.8" y2="2989.5" stroke="#4d4d4d" stroke-width="3.4"/>
<text transform="translate(372.05 3006.73) scale(0.9520 1)" style="font-size:56.71px;font-family:'Liberation Sans',Arial,Helvetica,sans-serif" fill="#000" stroke="#000" stroke-width="1.10">10</text>
<line x1="438.0" y1="2772.3" x2="447.8" y2="2772.3" stroke="#4d4d4d" stroke-width="3.4"/>
<text transform="translate(372.21 2789.49) scale(0.9520 1)" style="font-size:56.71px;font-family:'Liberation Sans',Arial,Helvetica,sans-serif" fill="#000" stroke="#000" stroke-width="1.10">15</text>
<line x1="438.0" y1="2555.1" x2="447.8" y2="2555.1" stroke="#4d4d4d" stroke-width="3.4"/>
<text transform="translate(372.05 2572.26) scale(0.9520 1)" style="font-size:56.71px;font-family:'Liberation Sans',Arial,Helvetica,sans-serif" fill="#000" stroke="#000" stroke-width="1.10">20</text>
<line x1="438.0" y1="2337.8" x2="447.8" y2="2337.8" stroke="#4d4d4d" stroke-width="3.4"/>
<text transform="translate(372.21 2355.02) scale(0.9520 1)" style="font-size:56.71px;font-family:'Liberation Sans',Arial,Helvetica,sans-serif" fill="#000" stroke="#000" stroke-width="1.10">25</text>
<line x1="438.0" y1="2120.6" x2="447.8" y2="2120.6" stroke="#4d4d4d" stroke-width="3.4"/>
<text transform="translate(372.05 2137.79) scale(0.9520 1)" style="font-size:56.71px;font-family:'Liberation Sans',Arial,Helvetica,sans-serif" fill="#000" stroke="#000" stroke-width="1.10">30</text>
<line x1="501.8" y1="3483.1" x2="501.8" y2="3500.0" stroke="#4d4d4d" stroke-width="4.2"/>
<text transform="translate(486.79 3560.80) scale(0.9520 1)" style="font-size:56.71px;font-family:'Liberation Sans',Arial,Helvetica,sans-serif" fill="#000" stroke="#000" stroke-width="1.10">0</text>
<line x1="657.3" y1="3483.1" x2="657.3" y2="3500.0" stroke="#4d4d4d" stroke-width="4.2"/>
<text transform="translate(641.53 3560.80) scale(0.9520 1)" style="font-size:56.71px;font-family:'Liberation Sans',Arial,Helvetica,sans-serif" fill="#000" stroke="#000" stroke-width="1.10">1</text>
<line x1="812.7" y1="3483.1" x2="812.7" y2="3500.0" stroke="#4d4d4d" stroke-width="4.2"/>
<text transform="translate(797.73 3560.80) scale(0.9520 1)" style="font-size:56.71px;font-family:'Liberation Sans',Arial,Helvetica,sans-serif" fill="#000" stroke="#000" stroke-width="1.10">2</text>
<line x1="968.2" y1="3483.1" x2="968.2" y2="3500.0" stroke="#4d4d4d" stroke-width="4.2"/>
<text transform="translate(953.36 3560.80) scale(0.9520 1)" style="font-size:56.71px;font-family:'Liberation Sans',Arial,Helvetica,sans-serif" fill="#000" stroke="#000" stroke-width="1.10">3</text>
<line x1="1123.7" y1="3483.1" x2="1123.7" y2="3500.0" stroke="#4d4d4d" stroke-width="4.2"/>
<text transform="translate(1108.83 3560.80) scale(0.9520 1)" style="font-size:56.71px;font-family:'Liberation Sans',Arial,Helvetica,sans-serif" fill="#000" stroke="#000" stroke-width="1.10">4</text>
<line x1="1279.2" y1="3483.1" x2="1279.2" y2="3500.0" stroke="#4d4d4d" stroke-width="4.2"/>
<text transform="translate(1264.20 3560.80) scale(0.9520 1)" style="font-size:56.71px;font-family:'Liberation Sans',Arial,Helvetica,sans-serif" fill="#000" stroke="#000" stroke-width="1.10">5</text>
<line x1="1434.6" y1="3483.1" x2="1434.6" y2="3500.0" stroke="#4d4d4d" stroke-width="4.2"/>
<text transform="translate(1419.42 3560.80) scale(0.9520 1)" style="font-size:56.71px;font-family:'Liberation Sans',Arial,Helvetica,sans-serif" fill="#000" stroke="#000" stroke-width="1.10">6</text>
<line x1="1590.1" y1="3483.1" x2="1590.1" y2="3500.0" stroke="#4d4d4d" stroke-width="4.2"/>
<text transform="translate(1575.05 3560.80) scale(0.9520 1)" style="font-size:56.71px;font-family:'Liberation Sans',Arial,Helvetica,sans-serif" fill="#000" stroke="#000" stroke-width="1.10">7</text>
<line x1="1745.6" y1="3483.1" x2="1745.6" y2="3500.0" stroke="#4d4d4d" stroke-width="4.2"/>
<text transform="translate(1730.55 3560.80) scale(0.9520 1)" style="font-size:56.71px;font-family:'Liberation Sans',Arial,Helvetica,sans-serif" fill="#000" stroke="#000" stroke-width="1.10">8</text>
<line x1="1901.0" y1="3483.1" x2="1901.0" y2="3500.0" stroke="#4d4d4d" stroke-width="4.2"/>
<text transform="translate(1886.02 3560.80) scale(0.9520 1)" style="font-size:56.71px;font-family:'Liberation Sans',Arial,Helvetica,sans-serif" fill="#000" stroke="#000" stroke-width="1.10">9</text>
<line x1="2056.5" y1="3483.1" x2="2056.5" y2="3500.0" stroke="#4d4d4d" stroke-width="4.2"/>
<text transform="translate(2025.49 3560.80) scale(0.9520 1)" style="font-size:56.71px;font-family:'Liberation Sans',Arial,Helvetica,sans-serif" fill="#000" stroke="#000" stroke-width="1.10">10</text>
<line x1="2212.0" y1="3483.1" x2="2212.0" y2="3500.0" stroke="#4d4d4d" stroke-width="4.2"/>
<text transform="translate(2183.22 3560.80) scale(0.9520 1)" style="font-size:56.71px;font-family:'Liberation Sans',Arial,Helvetica,sans-serif" fill="#000" stroke="#000" stroke-width="1.10">11</text>
<line x1="2367.4" y1="3483.1" x2="2367.4" y2="3500.0" stroke="#4d4d4d" stroke-width="4.2"/>
<text transform="translate(2336.72 3560.80) scale(0.9520 1)" style="font-size:56.71px;font-family:'Liberation Sans',Arial,Helvetica,sans-serif" fill="#000" stroke="#000" stroke-width="1.10">12</text>
<text transform="translate(321.00 3345.71) rotate(-90) scale(1.0644 1)" style="font-size:53.56px;font-weight:bold;font-family:'Liberation Sans',Arial,Helvetica,sans-serif" fill="#000" stroke="#000" stroke-width="0.80">Cumulative incidence of recurrent VTE (%)</text>
<text transform="translate(1168.94 3654.60) scale(1.0729 1)" style="font-size:52.70px;font-weight:bold;font-family:'Liberation Sans',Arial,Helvetica,sans-serif" fill="#000" stroke="#000" stroke-width="0.80">Follow-Up (months)</text>
<text transform="translate(535.46 2149.50) scale(1.0116 1)" style="font-size:51.40px;font-family:'Liberation Sans',Arial,Helvetica,sans-serif" fill="#000" stroke="#000" stroke-width="1.10">SHR (95%CI)</text>
<text transform="translate(535.95 2209.00) scale(1.0130 1)" style="font-size:51.40px;font-family:'Liberation Sans',Arial,Helvetica,sans-serif" fill="#000" stroke="#000" stroke-width="1.10">Apixaban:1.249 (0.584&#8211;2.670)</text>
<text transform="translate(536.68 2271.20) scale(1.0144 1)" style="font-size:51.40px;font-family:'Liberation Sans',Arial,Helvetica,sans-serif" fill="#000" stroke="#000" stroke-width="1.10">Dabigatran:1.779 (0.554&#8211;5.711)</text>
<text transform="translate(536.68 2331.10) scale(1.0144 1)" style="font-size:51.40px;font-family:'Liberation Sans',Arial,Helvetica,sans-serif" fill="#000" stroke="#000" stroke-width="1.10">Edoxaban:0.917 (0.318&#8211;2.641)</text>
<text transform="translate(536.75 2391.00) scale(0.9957 1)" style="font-size:51.40px;font-family:'Liberation Sans',Arial,Helvetica,sans-serif" fill="#000" stroke="#000" stroke-width="1.10">Rivaroxaban:reference</text>
<rect x="1954.8" y="2076.5" width="460.5" height="276.7" fill="none" stroke="#333" stroke-width="3.2"/>
<text transform="translate(2090.42 2138.60) scale(0.9491 1)" style="font-size:54.85px;font-family:'Liberation Sans',Arial,Helvetica,sans-serif" fill="#000" stroke="#000" stroke-width="1.10">Apixaban</text>
<line x1="2011.6" y1="2114.5" x2="2020.0" y2="2114.5" stroke="#0000ff" stroke-width="8.0" stroke-linecap="round"/>
<line x1="2048.0" y1="2114.5" x2="2054.8" y2="2114.5" stroke="#0000ff" stroke-width="8.0" stroke-linecap="round"/>
<text transform="translate(2090.17 2200.30) scale(0.9701 1)" style="font-size:54.85px;font-family:'Liberation Sans',Arial,Helvetica,sans-serif" fill="#000" stroke="#000" stroke-width="1.10">Dabigatran</text>
<line x1="2011.6" y1="2177.2" x2="2040.0" y2="2177.2" stroke="#ff0000" stroke-width="8.0" stroke-linecap="round"/>
<line x1="2069.4" y1="2177.2" x2="2074.6" y2="2177.2" stroke="#ff0000" stroke-width="8.0" stroke-linecap="round"/>
<text transform="translate(2090.85 2262.40) scale(0.9506 1)" style="font-size:54.85px;font-family:'Liberation Sans',Arial,Helvetica,sans-serif" fill="#000" stroke="#000" stroke-width="1.10">Edoxaban</text>
<line x1="2011.6" y1="2240.0" x2="2020.0" y2="2240.0" stroke="#008000" stroke-width="8.0" stroke-linecap="round"/>
<line x1="2061.0" y1="2240.0" x2="2074.6" y2="2240.0" stroke="#008000" stroke-width="8.0" stroke-linecap="round"/>
<text transform="translate(2090.24 2324.30) scale(0.9520 1)" style="font-size:54.85px;font-family:'Liberation Sans',Arial,Helvetica,sans-serif" fill="#000" stroke="#000" stroke-width="1.10">Rivaroxaban</text>
<line x1="2011.6" y1="2302.7" x2="2074.6" y2="2302.7" stroke="#000000" stroke-width="8.0" stroke-linecap="round"/>
<path d="M499.4 3423.7L538.0 3423.7L544.3 3423.7L544.3 3419.1L553.7 3419.1L553.7 3415.4L563.1 3415.4L563.1 3411.8L572.5 3411.8L572.5 3408.1L581.9 3408.1L581.9 3404.4L597.5 3404.4L597.5 3401.3L613.2 3401.3L613.2 3398.2L615.3 3398.2L615.3 3396.1L648.8 3396.1L648.8 3390.9L709.3 3390.9L709.3 3388.8L751.1 3388.8L782.5 3388.8L782.5 3386.7L790.8 3386.7L790.8 3383.6L816.7 3383.6L816.7 3380.8L836.1 3380.1L882.2 3380.1L916.2 3380.1L916.2 3376.9L950.1 3376.9L950.1 3374.0L967.1 3374.0L967.1 3372.1L996.2 3372.1L996.2 3369.2L1008.3 3369.2L1008.3 3366.7L1039.9 3366.7L1039.9 3363.8L1093.3 3363.8L1095.7 3363.8L1095.7 3360.7L1141.8 3360.7L1171.5 3360.7L1171.5 3358.8L1278.3 3358.8L1302.5 3358.8L1302.5 3353.9L1319.5 3353.9L1319.5 3349.8L1338.9 3349.8L1338.9 3347.4L1360.8 3347.4L1360.8 3346.1L1389.9 3346.1L1389.9 3342.5L1404.4 3342.5L1433.5 3342.5L1433.5 3339.4L1539.9 3339.1L1572.3 3339.1L1572.3 3336.6L1679.5 3336.6L1706.9 3336.6L1706.9 3334.6L1741.8 3334.6L1749.3 3334.6L1749.3 3330.9L1949.7 3330.8L1982.1 3330.8L1982.1 3328.3L2034.5 3328.3L2037.0 3328.3L2037.0 3324.6L2074.4 3324.6L2079.4 3324.6L2079.4 3322.6L2251.2 3322.6L2251.2 3320.5L2298.6 3320.5L2303.1 3320.5L2303.1 3317.0L2367.3 3317.0" fill="none" stroke="#008000" stroke-width="8.0" stroke-linecap="round" stroke-linejoin="round" stroke-dasharray="8.0 39.2 49.0 39.3 8.0 39.2 49.0 39.3 8.0 39.2 49.0 39.3 8.0 39.2 49.0 39.3 8.0 39.2 49.0 39.3 8.0 39.2 49.0 39.3 8.0 39.2 49.0 39.3 8.0 39.2 49.0 39.3 8.0 38.1 49.0 43.3 8.0 37.6 49.0 40.8 8.0 41.0 49.0 43.7 8.0 40.7 49.0 44.4 8.0 37.6 49.0 43.3 8.0 40.2 49.0 41.3 8.0 97.5" stroke-dashoffset="1991.9"/>
<path d="M499.4 3423.7L540.0 3423.7L542.5 3423.7L542.5 3419.3L545.0 3419.3L545.0 3415.0L550.3 3415.0L550.3 3410.8L555.7 3410.8L555.7 3406.6L561.0 3406.6L561.0 3402.4L570.8 3402.4L570.8 3398.2L580.5 3398.2L580.5 3394.0L590.3 3394.0L590.3 3389.8L611.2 3389.8L611.2 3384.6L623.7 3384.6L623.7 3381.4L636.2 3381.4L636.2 3378.3L648.8 3377.3L661.3 3377.3L661.3 3374.2L673.8 3374.2L673.8 3371.0L709.3 3371.0L709.3 3368.9L738.6 3368.9L738.6 3366.8L742.8 3366.8L742.8 3364.8L767.8 3364.8L767.8 3362.7L794.9 3362.7L794.9 3359.5L826.4 3359.5L826.4 3355.8L836.1 3355.8L836.1 3352.2L899.2 3352.2L904.0 3352.2L904.0 3348.6L935.6 3348.6L935.6 3346.9L964.7 3346.9L964.7 3343.7L974.4 3343.7L974.4 3340.1L984.1 3340.1L984.1 3336.4L1025.3 3336.4L1025.3 3332.8L1061.7 3332.8L1061.7 3331.1L1088.4 3331.1L1093.3 3331.1L1093.3 3326.7L1129.6 3326.0L1147.3 3326.0L1147.3 3323.1L1237.0 3323.1L1254.0 3323.1L1254.0 3320.0L1271.0 3320.0L1283.1 3320.0L1283.1 3317.0L1297.7 3317.0L1314.7 3317.0L1314.7 3313.4L1324.4 3313.4L1324.4 3311.0L1332.9 3311.0L1332.9 3307.3L1341.4 3307.3L1341.4 3303.7L1370.5 3303.7L1370.5 3301.3L1404.4 3301.3L1404.4 3298.8L1419.0 3298.8L1419.0 3297.6L1433.5 3297.6L1433.5 3293.0L1539.9 3293.0L1544.9 3293.0L1544.9 3291.0L1552.3 3291.0L1552.3 3288.5L1729.3 3288.5L1729.3 3286.0L1749.3 3286.0L1749.3 3281.8L1756.8 3281.8L1756.8 3277.3L1939.8 3277.2L1957.2 3277.2L1957.2 3274.2L2032.0 3274.2L2039.5 3274.2L2039.5 3270.0L2096.8 3269.2L2242.3 3268.6L2251.2 3268.6L2251.2 3266.0L2286.7 3265.6L2294.1 3265.6L2294.1 3261.9L2301.6 3261.9L2301.6 3258.2L2367.3 3258.2" fill="none" stroke="#0000ff" stroke-width="8.0" stroke-linecap="round" stroke-linejoin="round" stroke-dasharray="8.5 27.5 8.5 27.5 8.5 27.5 8.5 27.5 8.5 27.5 8.5 27.5 8.5 27.5 8.5 27.5 8.5 27.5 8.5 27.5 8.5 27.5 8.5 27.5 8.5 27.5 8.5 27.5 8.5 27.5 8.5 27.5 8.5 27.5 8.5 27.5 8.5 27.5 8.5 27.5 8.5 27.5 8.5 27.5 8.5 27.5 8.5 27.5 8.5 27.5 8.5 27.5 8.5 27.5 8.5 27.5 8.5 27.5 8.5 27.5 8.5 27.5 8.5 26.4 8.5 25.9 8.5 27.6 8.5 28.9 8.5 27.7 8.5 23.9 8.5 25.1 8.5 36.4 8.5 27.7 8.5 26.4 8.5 29.8 8.5 26.4 8.5 28.2 8.5 26.3 8.5 29.0 8.5 25.6 8.5 26.4 8.5 30.2 8.5 26.3 8.5 27.4 8.5 30.1 8.5 23.0 8.5 29.3 8.5 26.3 8.5 91.0" stroke-dashoffset="2057.2"/>
<path d="M499.4 3423.7L536.0 3423.7L537.5 3423.7L537.5 3420.2L539.1 3420.2L539.1 3416.7L540.7 3416.7L540.7 3413.2L542.2 3413.2L542.2 3409.7L547.1 3409.7L547.1 3405.2L551.9 3405.2L551.9 3400.6L556.8 3400.6L556.8 3396.1L565.2 3396.1L565.2 3391.9L573.6 3391.9L573.6 3387.7L580.5 3387.7L580.5 3383.9L587.5 3383.9L587.5 3380.0L594.4 3380.0L594.4 3376.2L604.8 3376.2L604.8 3372.6L615.3 3372.6L615.3 3368.9L616.7 3368.9L616.7 3364.7L618.1 3364.7L618.1 3360.6L619.5 3360.6L619.5 3356.4L627.9 3355.4L648.8 3355.4L648.8 3352.2L682.2 3352.2L682.2 3350.1L698.9 3350.1L698.9 3344.9L734.4 3344.9L751.1 3344.9L751.1 3339.7L767.8 3339.7L767.8 3336.6L778.3 3336.6L795.0 3336.6L795.0 3331.3L814.3 3330.4L819.1 3330.4L819.1 3325.5L874.9 3325.5L874.9 3323.6L899.2 3323.6L899.2 3321.9L908.9 3321.9L908.9 3317.7L918.6 3317.7L918.6 3313.4L942.8 3313.4L942.8 3310.9L955.0 3310.9L955.0 3306.1L969.5 3306.1L969.5 3302.4L984.1 3302.4L984.1 3298.8L1005.9 3298.8L1005.9 3297.6L1010.8 3297.6L1010.8 3292.8L1061.7 3292.8L1061.7 3287.9L1086.0 3287.9L1086.0 3286.7L1112.7 3286.7L1112.7 3285.5L1139.3 3285.5L1139.3 3283.0L1146.6 3283.0L1146.6 3279.4L1222.5 3279.4L1244.3 3279.4L1244.3 3278.2L1246.7 3278.2L1246.7 3274.6L1273.4 3274.6L1281.9 3274.6L1281.9 3271.6L1290.4 3271.6L1290.4 3268.5L1314.7 3268.5L1314.7 3266.1L1322.0 3266.1L1322.0 3261.2L1329.2 3261.2L1329.2 3256.4L1332.8 3256.4L1332.8 3253.4L1336.5 3253.4L1336.5 3250.3L1358.3 3250.3L1380.2 3250.3L1380.2 3246.7L1389.9 3246.7L1389.9 3243.0L1406.9 3243.0L1406.9 3241.8L1426.3 3241.8L1426.3 3238.2L1443.3 3238.2L1443.3 3236.5L1539.9 3236.2L1551.1 3236.2L1551.1 3232.1L1562.3 3232.1L1562.3 3227.9L1679.5 3227.9L1694.4 3227.9L1694.4 3223.7L1731.8 3222.9L1749.3 3222.9L1749.3 3217.5L1759.3 3217.5L1759.3 3215.0L1947.2 3214.9L1962.2 3214.9L1962.2 3209.4L2019.5 3209.4L2034.5 3209.4L2034.5 3203.7L2049.5 3203.7L2071.9 3203.7L2071.9 3199.9L2074.4 3199.9L2074.4 3198.0L2237.8 3198.0L2248.2 3198.0L2248.2 3196.0L2264.5 3195.2L2300.1 3194.5L2301.6 3194.5L2301.6 3189.7L2303.1 3189.7L2303.1 3184.8L2367.3 3184.8" fill="none" stroke="#ff0000" stroke-width="8.0" stroke-linecap="round" stroke-linejoin="round" stroke-dasharray="10.2 27.7 29.0 27.7 29.0 27.7 29.0 27.7 29.0 27.7 29.0 27.7 29.0 27.7 29.0 27.7 29.0 27.7 29.0 27.7 29.0 27.7 29.0 27.7 29.0 27.7 29.0 27.7 29.0 27.7 29.0 27.7 29.0 27.7 29.0 27.7 29.0 27.7 29.0 27.7 29.0 27.7 29.0 27.7 29.0 25.4 29.0 27.1 29.0 27.6 29.0 30.0 29.0 22.1 29.0 27.1 29.0 29.3 29.0 28.9 29.0 28.3 29.0 33.5 29.0 22.1 29.0 28.3 29.0 28.3 29.0 22.0 29.0 26.6 29.0 53.1" stroke-dashoffset="0.0"/>
<path d="M499.4 3423.7L533.9 3423.7L538.0 3423.7L538.0 3418.0L552.7 3418.0L552.7 3412.8L561.0 3412.8L561.0 3409.7L569.4 3409.7L569.4 3406.5L578.8 3406.5L578.8 3402.3L588.2 3402.3L588.2 3398.2L597.6 3398.2L597.6 3393.5L607.0 3393.5L607.0 3388.8L619.5 3388.8L619.5 3385.6L682.2 3385.6L682.2 3383.6L686.4 3383.6L686.4 3380.4L736.5 3379.4L765.7 3379.4L765.7 3377.3L769.9 3377.3L769.9 3374.2L790.0 3374.2L790.0 3372.1L814.3 3371.1L826.4 3371.1L826.4 3366.7L896.7 3366.3L916.2 3366.3L916.2 3360.7L950.1 3360.7L950.1 3358.3L974.4 3358.3L974.4 3354.6L1003.5 3354.6L1003.5 3351.0L1022.9 3351.0L1022.9 3346.9L1088.4 3346.1L1093.3 3346.1L1093.3 3343.7L1139.3 3343.7L1144.9 3343.7L1144.9 3341.3L1241.9 3341.3L1246.7 3341.3L1246.7 3338.9L1280.7 3338.9L1285.6 3338.9L1285.6 3336.4L1305.0 3336.0L1309.8 3336.0L1309.8 3332.8L1329.2 3332.8L1329.2 3329.7L1336.5 3329.7L1336.5 3324.3L1358.3 3324.3L1358.3 3321.9L1387.5 3321.9L1392.3 3321.9L1392.3 3319.0L1426.3 3319.0L1431.1 3319.0L1431.1 3316.3L1542.4 3316.0L1554.8 3316.0L1554.8 3311.7L1694.4 3311.7L1696.9 3311.7L1696.9 3309.2L1744.3 3309.2L1756.8 3309.2L1756.8 3303.5L1954.7 3303.4L1957.2 3303.4L1957.2 3300.1L2032.0 3300.1L2034.5 3300.1L2034.5 3297.6L2071.9 3297.6L2074.4 3297.6L2074.4 3295.5L2248.2 3295.5L2249.7 3295.5L2249.7 3292.3L2298.6 3292.3L2301.6 3292.3L2301.6 3287.1L2368.3 3287.1" fill="none" stroke="#000000" stroke-width="8.0" stroke-linecap="round" stroke-linejoin="round"/>
<text transform="translate(33.36 3730.20) scale(1.0148 1)" style="font-size:46.26px;font-weight:bold;font-family:'Liberation Sans',Arial,Helvetica,sans-serif" fill="#000" stroke="#000" stroke-width="0.80">No. at risk</text>
<text transform="translate(83.86 3791.20) scale(0.9975 1)" style="font-size:46.69px;font-family:'Liberation Sans',Arial,Helvetica,sans-serif" fill="#000" stroke="#000" stroke-width="1.10">Apixaban</text>
<text transform="translate(448.44 3791.20) scale(0.9563 1)" style="font-size:48.71px;font-family:'Liberation Sans',Arial,Helvetica,sans-serif" fill="#000" stroke="#000" stroke-width="1.10">265</text>
<text transform="translate(610.14 3791.20) scale(0.9563 1)" style="font-size:48.71px;font-family:'Liberation Sans',Arial,Helvetica,sans-serif" fill="#000" stroke="#000" stroke-width="1.10">255</text>
<text transform="translate(758.71 3791.20) scale(0.9563 1)" style="font-size:48.71px;font-family:'Liberation Sans',Arial,Helvetica,sans-serif" fill="#000" stroke="#000" stroke-width="1.10">242</text>
<text transform="translate(911.34 3791.20) scale(0.9563 1)" style="font-size:48.71px;font-family:'Liberation Sans',Arial,Helvetica,sans-serif" fill="#000" stroke="#000" stroke-width="1.10">235</text>
<text transform="translate(1073.27 3791.20) scale(0.9563 1)" style="font-size:48.71px;font-family:'Liberation Sans',Arial,Helvetica,sans-serif" fill="#000" stroke="#000" stroke-width="1.10">229</text>
<text transform="translate(1226.83 3791.20) scale(0.9563 1)" style="font-size:48.71px;font-family:'Liberation Sans',Arial,Helvetica,sans-serif" fill="#000" stroke="#000" stroke-width="1.10">226</text>
<text transform="translate(1386.13 3791.20) scale(0.9563 1)" style="font-size:48.71px;font-family:'Liberation Sans',Arial,Helvetica,sans-serif" fill="#000" stroke="#000" stroke-width="1.10">224</text>
<text transform="translate(1546.93 3791.20) scale(0.9563 1)" style="font-size:48.71px;font-family:'Liberation Sans',Arial,Helvetica,sans-serif" fill="#000" stroke="#000" stroke-width="1.10">223</text>
<text transform="translate(1697.01 3791.20) scale(0.9563 1)" style="font-size:48.71px;font-family:'Liberation Sans',Arial,Helvetica,sans-serif" fill="#000" stroke="#000" stroke-width="1.10">222</text>
<text transform="translate(1860.06 3791.20) scale(0.9563 1)" style="font-size:48.71px;font-family:'Liberation Sans',Arial,Helvetica,sans-serif" fill="#000" stroke="#000" stroke-width="1.10">221</text>
<text transform="translate(2024.47 3791.20) scale(0.9563 1)" style="font-size:48.71px;font-family:'Liberation Sans',Arial,Helvetica,sans-serif" fill="#000" stroke="#000" stroke-width="1.10">219</text>
<text transform="translate(2184.71 3791.20) scale(0.9563 1)" style="font-size:48.71px;font-family:'Liberation Sans',Arial,Helvetica,sans-serif" fill="#000" stroke="#000" stroke-width="1.10">217</text>
<text transform="translate(2344.63 3791.20) scale(0.9563 1)" style="font-size:48.71px;font-family:'Liberation Sans',Arial,Helvetica,sans-serif" fill="#000" stroke="#000" stroke-width="1.10">214</text>
<text transform="translate(83.83 3855.60) scale(0.9975 1)" style="font-size:46.69px;font-family:'Liberation Sans',Arial,Helvetica,sans-serif" fill="#000" stroke="#000" stroke-width="1.10">Dabigatran</text>
<text transform="translate(474.66 3855.60) scale(0.9563 1)" style="font-size:48.71px;font-family:'Liberation Sans',Arial,Helvetica,sans-serif" fill="#000" stroke="#000" stroke-width="1.10">51</text>
<text transform="translate(635.90 3855.60) scale(0.9563 1)" style="font-size:48.71px;font-family:'Liberation Sans',Arial,Helvetica,sans-serif" fill="#000" stroke="#000" stroke-width="1.10">50</text>
<text transform="translate(784.47 3855.60) scale(0.9563 1)" style="font-size:48.71px;font-family:'Liberation Sans',Arial,Helvetica,sans-serif" fill="#000" stroke="#000" stroke-width="1.10">49</text>
<text transform="translate(936.63 3855.60) scale(0.9563 1)" style="font-size:48.71px;font-family:'Liberation Sans',Arial,Helvetica,sans-serif" fill="#000" stroke="#000" stroke-width="1.10">44</text>
<text transform="translate(1098.33 3855.60) scale(0.9563 1)" style="font-size:48.71px;font-family:'Liberation Sans',Arial,Helvetica,sans-serif" fill="#000" stroke="#000" stroke-width="1.10">44</text>
<text transform="translate(1252.03 3855.60) scale(0.9563 1)" style="font-size:48.71px;font-family:'Liberation Sans',Arial,Helvetica,sans-serif" fill="#000" stroke="#000" stroke-width="1.10">44</text>
<text transform="translate(1412.96 3855.60) scale(0.9563 1)" style="font-size:48.71px;font-family:'Liberation Sans',Arial,Helvetica,sans-serif" fill="#000" stroke="#000" stroke-width="1.10">41</text>
<text transform="translate(1573.06 3855.60) scale(0.9563 1)" style="font-size:48.71px;font-family:'Liberation Sans',Arial,Helvetica,sans-serif" fill="#000" stroke="#000" stroke-width="1.10">41</text>
<text transform="translate(1722.86 3855.60) scale(0.9563 1)" style="font-size:48.71px;font-family:'Liberation Sans',Arial,Helvetica,sans-serif" fill="#000" stroke="#000" stroke-width="1.10">41</text>
<text transform="translate(1885.50 3855.60) scale(0.9563 1)" style="font-size:48.71px;font-family:'Liberation Sans',Arial,Helvetica,sans-serif" fill="#000" stroke="#000" stroke-width="1.10">40</text>
<text transform="translate(2050.00 3855.60) scale(0.9563 1)" style="font-size:48.71px;font-family:'Liberation Sans',Arial,Helvetica,sans-serif" fill="#000" stroke="#000" stroke-width="1.10">40</text>
<text transform="translate(2210.10 3855.60) scale(0.9563 1)" style="font-size:48.71px;font-family:'Liberation Sans',Arial,Helvetica,sans-serif" fill="#000" stroke="#000" stroke-width="1.10">40</text>
<text transform="translate(2371.00 3855.60) scale(0.9563 1)" style="font-size:48.71px;font-family:'Liberation Sans',Arial,Helvetica,sans-serif" fill="#000" stroke="#000" stroke-width="1.10">40</text>
<text transform="translate(83.83 3920.20) scale(0.9975 1)" style="font-size:46.69px;font-family:'Liberation Sans',Arial,Helvetica,sans-serif" fill="#000" stroke="#000" stroke-width="1.10">Edoxaban</text>
<text transform="translate(448.76 3920.20) scale(0.9563 1)" style="font-size:48.71px;font-family:'Liberation Sans',Arial,Helvetica,sans-serif" fill="#000" stroke="#000" stroke-width="1.10">151</text>
<text transform="translate(609.53 3920.20) scale(0.9563 1)" style="font-size:48.71px;font-family:'Liberation Sans',Arial,Helvetica,sans-serif" fill="#000" stroke="#000" stroke-width="1.10">144</text>
<text transform="translate(758.43 3920.20) scale(0.9563 1)" style="font-size:48.71px;font-family:'Liberation Sans',Arial,Helvetica,sans-serif" fill="#000" stroke="#000" stroke-width="1.10">136</text>
<text transform="translate(911.71 3920.20) scale(0.9563 1)" style="font-size:48.71px;font-family:'Liberation Sans',Arial,Helvetica,sans-serif" fill="#000" stroke="#000" stroke-width="1.10">132</text>
<text transform="translate(1073.41 3920.20) scale(0.9563 1)" style="font-size:48.71px;font-family:'Liberation Sans',Arial,Helvetica,sans-serif" fill="#000" stroke="#000" stroke-width="1.10">132</text>
<text transform="translate(1227.06 3920.20) scale(0.9563 1)" style="font-size:48.71px;font-family:'Liberation Sans',Arial,Helvetica,sans-serif" fill="#000" stroke="#000" stroke-width="1.10">131</text>
<text transform="translate(1386.60 3920.20) scale(0.9563 1)" style="font-size:48.71px;font-family:'Liberation Sans',Arial,Helvetica,sans-serif" fill="#000" stroke="#000" stroke-width="1.10">130</text>
<text transform="translate(1546.70 3920.20) scale(0.9563 1)" style="font-size:48.71px;font-family:'Liberation Sans',Arial,Helvetica,sans-serif" fill="#000" stroke="#000" stroke-width="1.10">130</text>
<text transform="translate(1696.50 3920.20) scale(0.9563 1)" style="font-size:48.71px;font-family:'Liberation Sans',Arial,Helvetica,sans-serif" fill="#000" stroke="#000" stroke-width="1.10">130</text>
<text transform="translate(1859.97 3920.20) scale(0.9563 1)" style="font-size:48.71px;font-family:'Liberation Sans',Arial,Helvetica,sans-serif" fill="#000" stroke="#000" stroke-width="1.10">129</text>
<text transform="translate(2024.61 3920.20) scale(0.9563 1)" style="font-size:48.71px;font-family:'Liberation Sans',Arial,Helvetica,sans-serif" fill="#000" stroke="#000" stroke-width="1.10">127</text>
<text transform="translate(2184.71 3920.20) scale(0.9563 1)" style="font-size:48.71px;font-family:'Liberation Sans',Arial,Helvetica,sans-serif" fill="#000" stroke="#000" stroke-width="1.10">127</text>
<text transform="translate(2345.33 3920.20) scale(0.9563 1)" style="font-size:48.71px;font-family:'Liberation Sans',Arial,Helvetica,sans-serif" fill="#000" stroke="#000" stroke-width="1.10">126</text>
<text transform="translate(83.83 3985.00) scale(0.9975 1)" style="font-size:46.69px;font-family:'Liberation Sans',Arial,Helvetica,sans-serif" fill="#000" stroke="#000" stroke-width="1.10">Rivaroxaban</text>
<text transform="translate(422.63 3985.00) scale(0.9563 1)" style="font-size:48.71px;font-family:'Liberation Sans',Arial,Helvetica,sans-serif" fill="#000" stroke="#000" stroke-width="1.10">1013</text>
<text transform="translate(610.23 3985.00) scale(0.9563 1)" style="font-size:48.71px;font-family:'Liberation Sans',Arial,Helvetica,sans-serif" fill="#000" stroke="#000" stroke-width="1.10">966</text>
<text transform="translate(758.20 3985.00) scale(0.9563 1)" style="font-size:48.71px;font-family:'Liberation Sans',Arial,Helvetica,sans-serif" fill="#000" stroke="#000" stroke-width="1.10">920</text>
<text transform="translate(911.57 3985.00) scale(0.9563 1)" style="font-size:48.71px;font-family:'Liberation Sans',Arial,Helvetica,sans-serif" fill="#000" stroke="#000" stroke-width="1.10">899</text>
<text transform="translate(1073.13 3985.00) scale(0.9563 1)" style="font-size:48.71px;font-family:'Liberation Sans',Arial,Helvetica,sans-serif" fill="#000" stroke="#000" stroke-width="1.10">883</text>
<text transform="translate(1226.13 3985.00) scale(0.9563 1)" style="font-size:48.71px;font-family:'Liberation Sans',Arial,Helvetica,sans-serif" fill="#000" stroke="#000" stroke-width="1.10">874</text>
<text transform="translate(1387.11 3985.00) scale(0.9563 1)" style="font-size:48.71px;font-family:'Liberation Sans',Arial,Helvetica,sans-serif" fill="#000" stroke="#000" stroke-width="1.10">857</text>
<text transform="translate(1546.70 3985.00) scale(0.9563 1)" style="font-size:48.71px;font-family:'Liberation Sans',Arial,Helvetica,sans-serif" fill="#000" stroke="#000" stroke-width="1.10">850</text>
<text transform="translate(1696.73 3985.00) scale(0.9563 1)" style="font-size:48.71px;font-family:'Liberation Sans',Arial,Helvetica,sans-serif" fill="#000" stroke="#000" stroke-width="1.10">843</text>
<text transform="translate(1859.97 3985.00) scale(0.9563 1)" style="font-size:48.71px;font-family:'Liberation Sans',Arial,Helvetica,sans-serif" fill="#000" stroke="#000" stroke-width="1.10">839</text>
<text transform="translate(2024.24 3985.00) scale(0.9563 1)" style="font-size:48.71px;font-family:'Liberation Sans',Arial,Helvetica,sans-serif" fill="#000" stroke="#000" stroke-width="1.10">835</text>
<text transform="translate(2184.43 3985.00) scale(0.9563 1)" style="font-size:48.71px;font-family:'Liberation Sans',Arial,Helvetica,sans-serif" fill="#000" stroke="#000" stroke-width="1.10">833</text>
<text transform="translate(2345.61 3985.00) scale(0.9563 1)" style="font-size:48.71px;font-family:'Liberation Sans',Arial,Helvetica,sans-serif" fill="#000" stroke="#000" stroke-width="1.10">827</text>
</svg>
<svg id="lab" width="2480" height="4202" viewBox="0 0 2480 4202">
<text transform="translate(1185.14 1977.00) scale(0.9579 1)" style="font-size:79.60px;font-family:'Liberation Serif','Times New Roman',serif" fill="#000">(<tspan style="font-weight:bold">a</tspan>)</text>
<text transform="translate(1179.52 4154.10) scale(1.0224 1)" style="font-size:79.60px;font-family:'Liberation Serif','Times New Roman',serif" fill="#000">(<tspan style="font-weight:bold">b</tspan>)</text>
</svg>
</div></body></html>
